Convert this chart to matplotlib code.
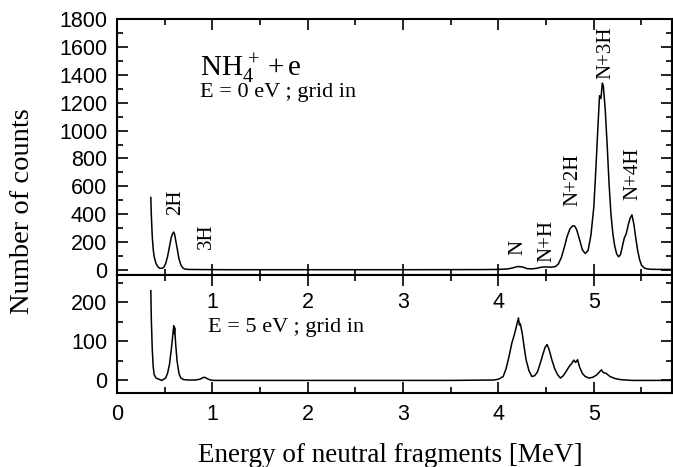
import matplotlib
matplotlib.use("Agg")
import matplotlib.pyplot as plt
from matplotlib.ticker import MultipleLocator

plt.rcParams['font.family'] = 'Liberation Sans'
plt.rcParams['mathtext.fontset'] = 'custom'
plt.rcParams['mathtext.rm'] = 'Liberation Serif'
plt.rcParams['mathtext.it'] = 'Liberation Serif:italic'

# spectrum at E = 0 eV (upper panel)
e0_energy = [0.355, 0.36, 0.37, 0.38, 0.39, 0.41, 0.43, 0.45, 0.47, 0.49, 0.51, 0.53,
             0.55, 0.57, 0.585, 0.595, 0.605, 0.615, 0.63, 0.65, 0.67, 0.69, 0.71, 0.75,
             0.9, 1.2, 2.0, 3.0, 3.8, 4.0, 4.1, 4.15, 4.2, 4.25, 4.3, 4.35, 4.4, 4.45,
             4.5, 4.55, 4.6, 4.63, 4.66, 4.69, 4.72, 4.75, 4.78, 4.8, 4.82, 4.85, 4.88,
             4.91, 4.94, 4.97, 5.0, 5.02, 5.04, 5.06, 5.075, 5.09, 5.1, 5.12, 5.14, 5.16,
             5.18, 5.2, 5.22, 5.24, 5.26, 5.28, 5.3, 5.32, 5.34, 5.36, 5.38, 5.4, 5.42,
             5.44, 5.46, 5.48, 5.5, 5.53, 5.56, 5.6, 5.7, 5.82]
e0_counts = [520, 400, 240, 150, 96, 45, 22, 12, 12, 18, 45, 95,
             165, 235, 262, 272, 255, 215, 160, 80, 36, 15, 7, 4,
             3, 2, 2, 2, 3, 4, 8, 15, 25, 22, 10, 8, 12, 20,
             22, 20, 25, 45, 90, 160, 240, 295, 318, 315, 290, 220, 145,
             118, 140, 250, 450, 700, 980, 1250, 1230, 1340, 1320, 1150, 900, 620,
             400, 260, 170, 115, 95, 110, 170, 230, 260, 320, 370, 395, 330,
             230, 140, 75, 35, 14, 8, 5, 4, 4]

# spectrum at E = 5 eV (lower panel)
e5_energy = [0.355, 0.36, 0.37, 0.38, 0.39, 0.41, 0.43, 0.45, 0.47, 0.49, 0.51, 0.53,
             0.55, 0.57, 0.585, 0.595, 0.6, 0.605, 0.615, 0.63, 0.65, 0.67, 0.7, 0.75,
             0.82, 0.87, 0.9, 0.92, 0.95, 0.98, 1.02, 1.5, 2.5, 3.5, 3.95, 4.0, 4.05,
             4.08, 4.11, 4.14, 4.17, 4.19, 4.21, 4.22, 4.23, 4.25, 4.27, 4.29, 4.32,
             4.35, 4.38, 4.41, 4.44, 4.47, 4.49, 4.51, 4.53, 4.56, 4.59, 4.62, 4.65,
             4.68, 4.71, 4.74, 4.77, 4.79, 4.81, 4.83, 4.85, 4.88, 4.91, 4.95, 4.99,
             5.03, 5.06, 5.08, 5.1, 5.13, 5.17, 5.22, 5.28, 5.4, 5.6, 5.82]
e5_counts = [230, 160, 80, 35, 15, 6, 4, 2, 0, 3, 6, 18,
             40, 80, 115, 140, 120, 135, 95, 50, 18, 6, 2, 1,
             1, 3, 7, 8, 4, 1, 0, 0, 0, 0, 1, 3, 10,
             30, 60, 95, 120, 140, 160, 142, 145, 120, 85, 53, 25,
             10, 12, 22, 45, 70, 85, 92, 80, 53, 30, 15, 6,
             12, 23, 35, 44, 52, 46, 53, 35, 18, 10, 6, 8,
             14, 22, 27, 20, 18, 10, 5, 2, 0, 0, 0]

peak_labels = ['2H', '3H', 'N', 'N+H', 'N+2H', 'N+3H', 'N+4H']
peak_x = [0.61, 0.94, 4.20, 4.51, 4.78, 5.13, 5.41]
peak_y = [485, 245, 165, 210, 645, 1560, 690]

inner_ticks = [1, 2, 3, 4, 5]

fig = plt.figure(figsize=(6.73, 4.67), dpi=100)
ax1 = fig.add_axes([0.1738, 0.4111, 0.8247, 0.5482])
ax2 = fig.add_axes([0.1738, 0.1595, 0.8247, 0.2516])

ax1.plot(e0_energy, e0_counts, color='black', lw=1.1)
ax2.plot(e5_energy, e5_counts, color='black', lw=1.1)

for ax in (ax1, ax2):
    ax.set_xlim(0, 5.82)
    ax.xaxis.set_major_locator(MultipleLocator(1))
    ax.xaxis.set_minor_locator(MultipleLocator(0.5))
    ax.tick_params(which='both', direction='in', top=True, right=True,
                   width=1.2, labelsize=15.5)
    ax.tick_params(which='major', length=8)
    ax.tick_params(which='minor', length=4.5)
    ax.tick_params(axis='y', pad=7)
    ax.tick_params(axis='x', pad=8)
    for s in ax.spines.values():
        s.set_linewidth(1.5)

ax1.set_ylim(-36, 1800)
ax1.yaxis.set_major_locator(MultipleLocator(200))
ax1.yaxis.set_minor_locator(MultipleLocator(100))
ax1.tick_params(labelbottom=False)

ax2.set_ylim(-31, 270)
ax2.yaxis.set_major_locator(MultipleLocator(100))
ax2.yaxis.set_minor_locator(MultipleLocator(50))

# labels printed just inside the top edge of the lower panel
sec = ax2.secondary_xaxis('top')
sec.set_xticks(inner_ticks)
sec.tick_params(length=0, pad=-27, labelsize=15.5)
sec.spines['top'].set_visible(False)

serif = 'Liberation Serif'
for lab, x, y in zip(peak_labels, peak_x, peak_y):
    ax1.text(x, y, lab, rotation=90, ha='center', va='center',
             family=serif, fontsize=15)

ax1.text(0.87, 1392, r'$\mathrm{NH_4^{\,+} + e}$', fontsize=21, family=serif)
ax1.text(0.87, 1241, 'E = 0 eV ; grid in', fontsize=16, family=serif)
ax2.text(0.95, 125, 'E = 5 eV ; grid in', fontsize=16, family=serif)

fig.text(0.033, 1 - 211 / 467, 'Number of counts', rotation=90, ha='center',
         va='center', family=serif, fontsize=20.5)
fig.text(0.58, 1 - 455 / 467, 'Energy of neutral fragments [MeV]', ha='center',
         va='center', family=serif, fontsize=19.5)

fig.savefig('out.png', dpi=100)
